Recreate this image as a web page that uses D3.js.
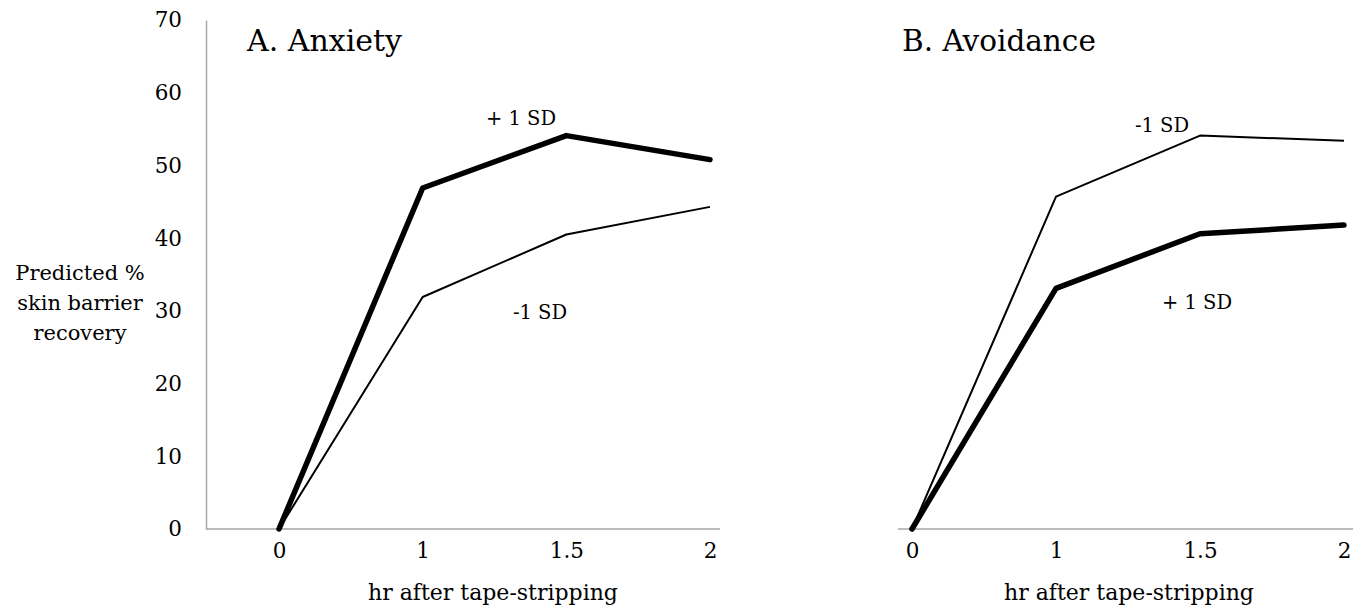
<!DOCTYPE html>
<html><head><meta charset="utf-8">
<script src="https://cdn.jsdelivr.net/npm/d3@7"></script>
<style>
html,body{margin:0;padding:0;background:#fff;}
svg{display:block;}
text{font-family:"DejaVu Serif","Liberation Serif",serif;fill:#000;}
</style></head>
<body>
<svg id="c" width="1368" height="610"></svg>
<script>
const categories = ["0", "1", "1.5", "2"];
const yTicks = [0, 10, 20, 30, 40, 50, 60, 70];
const anxietyHigh = [0, 46.9, 54.1, 50.8];   // +1 SD (thick)
const anxietyLow  = [0, 31.9, 40.5, 44.3];   // -1 SD (thin)
const avoidHigh   = [0, 33.1, 40.6, 41.8];   // +1 SD (thick)
const avoidLow    = [0, 45.7, 54.1, 53.4];   // -1 SD (thin)
const panelTitles = ["A. Anxiety", "B. Avoidance"];
const xTitle = "hr after tape-stripping";
const yTitle = ["Predicted %", "skin barrier", "recovery"];

const svg = d3.select("#c");
const y = d3.scaleLinear().domain([0, 70]).range([529, 20]);
const line = (x) => d3.line().x((d, i) => x(categories[i])).y(d => y(d));

// Y axis (left panel only)
const yAx = svg.append("g").attr("transform", "translate(206,0)")
  .call(d3.axisLeft(y).tickValues(yTicks).tickSize(0).tickPadding(24).tickFormat(d3.format("d")));
yAx.select(".domain").attr("stroke", "#a6a6a6").attr("stroke-width", 1.5);
yAx.selectAll("text").style("font-size", "21.5px").style("font-family", '"DejaVu Serif",serif');

// Y title
const yt = svg.append("text").attr("text-anchor", "middle").style("font-size", "21px");
yTitle.forEach((t, i) => yt.append("tspan").attr("x", 80).attr("y", 280 + i * 30).text(t));

function panel(range, axisExtent, high, low, title, titleX, titleSize, labels, xTitleX) {
  const x = d3.scalePoint().domain(categories).range(range);
  svg.append("line").attr("x1", axisExtent[0]).attr("x2", axisExtent[1])
    .attr("y1", y(0)).attr("y2", y(0)).attr("stroke", "#a6a6a6").attr("stroke-width", 1.5);
  const xAx = svg.append("g").attr("transform", `translate(0,${y(0)})`)
    .call(d3.axisBottom(x).tickSize(0).tickPadding(14));
  xAx.select(".domain").remove();
  xAx.selectAll("text").style("font-size", "21.5px").style("font-family", '"DejaVu Serif",serif');

  svg.append("path").datum(low).attr("d", line(x)).attr("fill", "none")
    .attr("stroke", "#000").attr("stroke-width", 2).attr("stroke-linejoin", "round");
  svg.append("path").datum(high).attr("d", line(x)).attr("fill", "none")
    .attr("stroke", "#000").attr("stroke-width", 5.5).attr("stroke-linejoin", "round").attr("stroke-linecap", "round");

  svg.append("text").attr("x", titleX).attr("y", 51).style("font-size", titleSize + "px").text(title);
  svg.append("text").attr("x", xTitleX).attr("y", 600).attr("text-anchor", "middle")
    .style("font-size", "22px").text(xTitle);
  labels.forEach(l => svg.append("text").attr("x", l.x).attr("y", l.y)
    .attr("text-anchor", "middle").style("font-size", "19.5px").text(l.t));
}

panel([279, 710], [206, 720], anxietyHigh, anxietyLow, panelTitles[0], 247, 30,
  [{t: "+ 1 SD", x: 521, y: 125}, {t: "-1 SD", x: 540, y: 319}], 493);
panel([912, 1344], [898, 1353], avoidHigh, avoidLow, panelTitles[1], 902, 29.5,
  [{t: "-1 SD", x: 1162, y: 132}, {t: "+ 1 SD", x: 1197, y: 309}], 1129);
</script>
</body></html>
